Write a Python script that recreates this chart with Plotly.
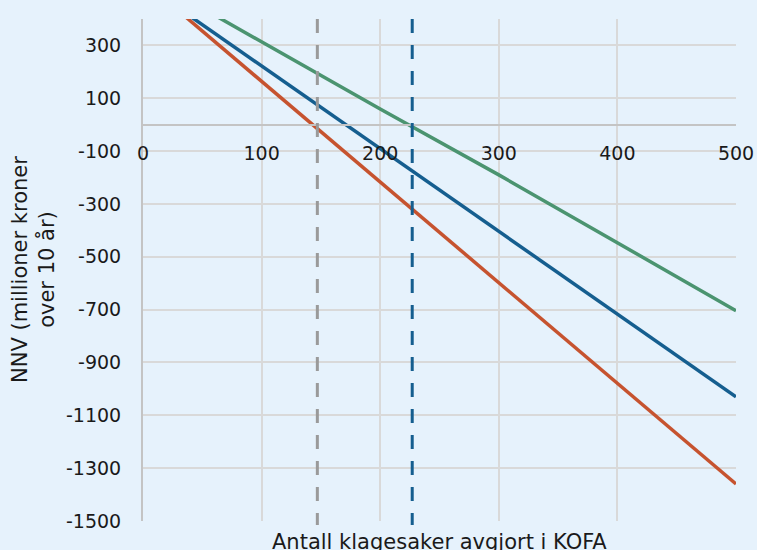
import plotly.graph_objects as go

# Data
x_vals = [0, 100, 200, 300, 400, 500]
red_vals = [545, 164, -217, -598, -979, -1360]
blue_vals = [535, 222, -91, -404, -717, -1030]
green_vals = [568, 314, 59, -190, -448, -704]
vline_gray = 147
vline_blue = 227
y_ticks = [300, 100, -100, -300, -500, -700, -900, -1100, -1300, -1500]
y_tick_labels = ["300", "100", "-100", "-300", "-500", "-700", "-900", "-1100", "-1300", "-1500"]
x_ticks = [0, 100, 200, 300, 400, 500]
x_tick_labels = ["0", "100", "200", "300", "400", "500"]

RED = "#C6532F"
BLUE = "#155E8F"
GREEN = "#4B9470"
GRAY_DASH = "#9A9A9A"
BG = "#E6F2FC"
GRID = "#D9D9D9"
AXIS = "#C4C4C4"
FONT = "DejaVu Sans"
FS = 19
FS_TITLE = 21

fig = go.Figure()
for vals, col in [(red_vals, RED), (blue_vals, BLUE), (green_vals, GREEN)]:
    fig.add_trace(go.Scatter(x=x_vals, y=vals, mode="lines",
                             line=dict(color=col, width=3.5), showlegend=False,
                             hoverinfo="skip"))

for xv, col in [(vline_gray, GRAY_DASH), (vline_blue, BLUE)]:
    fig.add_shape(type="line", xref="x", yref="paper", x0=xv, x1=xv, y0=1, y1=-0.008,
                  line=dict(color=col, width=3, dash="14px,12px"))

y_min, y_max = -1500, 400
fig.update_layout(
    width=757, height=550,
    margin=dict(l=143, r=21, t=19, b=29),
    paper_bgcolor=BG, plot_bgcolor=BG,
    font=dict(family=FONT, size=FS, color="#1a1a1a"),
    xaxis=dict(range=[0, 500], tickvals=x_ticks, ticktext=x_tick_labels,
               showgrid=True, gridcolor=GRID, automargin=False,
               gridwidth=2, zeroline=False, showline=True, linecolor=AXIS, linewidth=2,
               anchor="free", position=(0 - y_min) / (y_max - y_min),
               ticks="", ticklabelstandoff=12, tickfont=dict(size=FS)),
    yaxis=dict(range=[y_min, y_max], tickvals=y_ticks, ticktext=y_tick_labels,
               showgrid=True, gridcolor=GRID, automargin=False,
               gridwidth=2, zeroline=False, showline=True, linecolor=AXIS, linewidth=2,
               ticks="", ticklabelstandoff=16, tickfont=dict(size=FS)),
)

fig.add_annotation(text="Antall klagesaker avgjort i KOFA", xref="paper", yref="paper",
                   x=0.5, y=-0.014, xanchor="center", yanchor="top", showarrow=False,
                   font=dict(size=FS_TITLE))
fig.add_annotation(text="NNV (millioner kroner<br>over 10 år)", xref="paper", yref="paper",
                   x=(33 - 143) / 593, y=0.5, xanchor="center", yanchor="middle",
                   textangle=-90, showarrow=False, font=dict(size=FS_TITLE))

fig.write_html("out.html", config={"displayModeBar": False},
               post_script="document.body.style.margin='0';document.body.style.background='#E6F2FC';")
